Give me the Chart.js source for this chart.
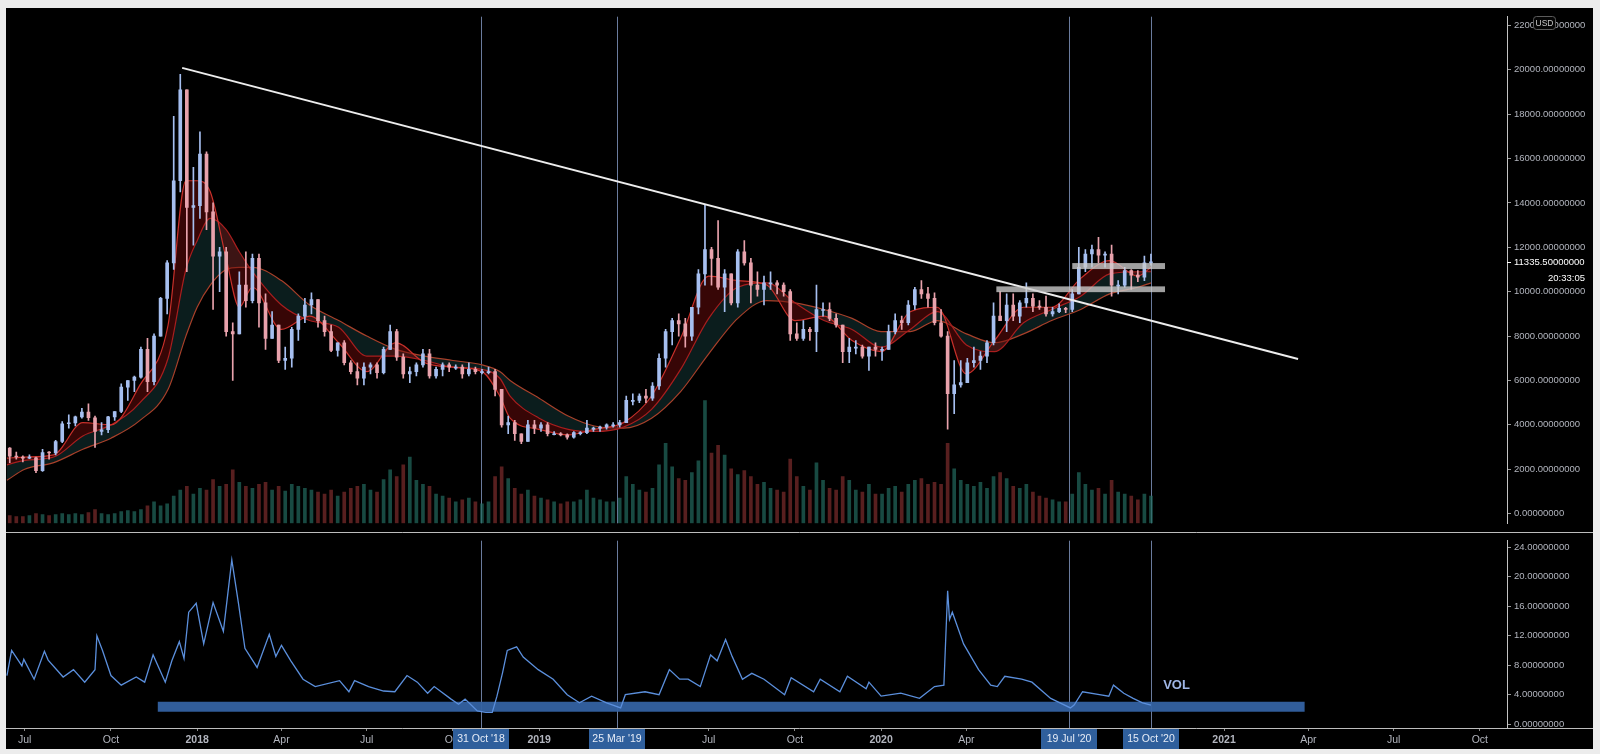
<!DOCTYPE html>
<html lang="en">
<head>
<meta charset="UTF-8">
<title>BTCUSD 1D</title>
<script src="https://cdn.jsdelivr.net/npm/chart.js"></script>
<style>
  html, body { margin: 0; padding: 0; background: #ececec; }
  body { width: 1600px; height: 754px; position: relative; overflow: hidden; }
  #frame { position: absolute; left: 6px; top: 8px; width: 1587px; height: 741px; background: #000; }
  #topChart { position: absolute; left: 0; top: 0; }
  #botChart { position: absolute; left: 0; top: 524px; }
</style>
</head>
<body>
<div id="frame">
  <canvas id="topChart" width="1587" height="524"></canvas>
  <canvas id="botChart" width="1587" height="217"></canvas>
</div>

<script>
// weekly candles, first week starting 12 Jun 2017
const weekStart = '2017-06-12';
const firstOpen = 2950;
const highs = [
  2980,2770,2600,2650,2550,2900,2800,3300,4150,4450,4400,4750,4950,4400,4100,4380,4600,5850,6000,6200,7500,7900,8100,9750,11400,17900,19800,19100,15600,
  17200,16300,14000,12000,12000, 8600,10900,11800,11700, 11700,9900,9100,8500, 7500,8400,9000,9700,9950, 9650,8900,8500,7700, 7800,6900,6800,6800,
  6800,6800,7500,8500,8300, 7200,6600,6800,7400, 7400,6600,6800,6800, 6700,6700,6800,6600,6500, 6600,6500,5600,4400, 4200,3600,4200,4200,4100,
  4100,3700,3650,3600, 3700,3700,4200,3900, 3950,4050,4100,4200, 5300,5400,5400,5600,5900, 7200,8300,8800,9000, 8800,9300,11000,13900,
  12000,13200,11000,10800,11900, 12300,11500,10900,10700, 10900,10500,10400,10100,8600, 8700,8400,10300,9500, 9500,9000,8500,7900, 7800,7600,7500,7700,7500,
  8500,9000,8900,9600, 10200,10500,10200,9950, 9200,8200,6900,6900,7000, 7500,7300,7800,9500, 10000,9900,9900,9600, 10400,9900,9600,9800,9300,
  9450,9300,10100,12000, 11900,12100,12450,11800,12100, 10500,11100,11000,10950, 11600,11700
];
const lows = [
  2300,2450,2330,2480,1850,1900,2450,2650,3200,3850,3950,4300,4200,2980,3550,3650,4200,4550,5100,5500,6100,5500,5800,8000,9000,11000,14500,10900,12100,
  13300,12800,9200,10000,8000, 6000,8100,9300,9500, 8400,7400,7900,6800, 6500,6600,7800,8600,9000, 8400,8000,7300,7100, 6700,6300,5800,5800,
  6300,6100,6300,7400,6900, 6100,5900,6200,6600, 6100,6100,6200,6400, 6500,6100,6200,6300,6300, 6300,5300,3900,3600, 3300,3150,3250,3600,3700,
  3500,3550,3500,3350, 3400,3550,3600,3700, 3700,3800,3900,3900, 4100,4900,5000,5000,5100, 5600,6600,7600,8000, 7500,7800,9000,10300,
  10300,10100,9100,9400,9300, 11200,9500,9800,9400, 10100,9900,9800,7800,7800, 7800,7800,7300,8900, 8700,8400,6800,6800, 7200,7000,6450,7100,6900,
  7400,8100,8300,8500, 9200,9700,9300,8500, 7950,3800,4500,5700,5900, 6600,6500,6800,7600, 8700,8200,8700,8600, 9300,9100,9200,8900,8900,
  9050,9050,9100,9900, 10900,11100,11300,11100,9800, 9900,10200,10100,10450, 10500,11200
];
const closes = [
  2590,2550,2500,2510,1930,2750,2730,3250,4050,4090,4360,4580,4320,3700,3780,4360,4600,5700,6000,6150,7400,5950,8000,9700,11300,15000,19100,13800,13880,
  16200,13600,11600,11800,8200, 8100,10300,9600,11500, 9500,7900,8500,6900, 7000,8300,8900,9400,9650, 8700,8200,7350,7700, 6800,6400,6100,6600,
  6700,6350,7400,8200,7050, 6300,6400,6700,7200, 6200,6500,6700,6600, 6600,6300,6500,6400,6400, 6400,5600,4000,4100, 3600,3250,4000,3850,4000,
  3600,3600,3550,3450, 3650,3650,3850,3850, 3900,4000,4000,4100, 5100,5100,5300,5200,5750, 7000,8200,8700,8550, 8000,9300,10800,11900,
  11500,10200,10800,9500,11800, 11300,10300,10100,10400, 10400,10300,10000,8100,7900, 8300,8200,9200,9200, 8800,8500,7300,7500, 7500,7100,7500,7400,7400,
  8200,8700,8600,9400, 10100,9900,9700,8600, 8000,5400,5800,5900,6800, 6900,7100,7700,8900, 8700,9400,8900,9500, 9700,9350,9300,9000,9100,
  9250,9200,9900,11100, 11700,11900,11650,11700,10300, 10300,10950,10750,10650, 11300,11335.5
];
const volumes = [
  8,7,7, 8,10,9,8,9, 10,9,10,9, 11,14,10,9, 10,12,13,12,14, 18,22,18,20, 28,34,38,30,
  36,34,45,38,40, 55,42,38,36, 40,42,34,38, 33,40,38,36,34, 32,30,34,28, 32,36,38,40,
  34,32,45,55,48, 60,68,44,40, 38,30,28,26, 22,24,26,22,20, 22,48,58,46, 36,30,34,28,26,
  24,22,20,22, 22,24,34,26, 24,22,22,26, 48,40,34,32,36, 60,82,58,46, 44,52,64,126,
  72,80,70,56,50, 54,48,40,42, 36,34,32,66,48, 38,34,62,44, 36,34,48,44, 34,32,40,30,30,
  36,38,32,40, 44,46,40,42, 40,82,56,44,40, 38,42,36,48, 52,46,38,36, 40,32,28,26,24,
  22,22,30,52, 40,34,36,30,44, 32,30,28,24, 30,28
];

// moving average ribbon (fast / mid / slow)
const maDates = ['2017-06-12','2017-07-01','2017-08-01','2017-09-01','2017-10-01','2017-11-01','2017-12-01','2017-12-20',
  '2018-01-01','2018-01-15','2018-02-01','2018-02-15','2018-03-01','2018-04-01','2018-05-01','2018-06-01','2018-07-01','2018-08-01',
  '2018-09-01','2018-10-01','2018-11-01','2018-11-20','2018-12-01','2019-01-01','2019-02-01','2019-03-01','2019-04-01','2019-05-01',
  '2019-06-01','2019-07-01','2019-08-01','2019-09-01','2019-10-01','2019-11-01','2019-12-01','2020-01-01','2020-02-01','2020-03-01',
  '2020-04-01','2020-05-01','2020-06-01','2020-07-01','2020-08-01','2020-09-01','2020-10-01','2020-10-15'];
const maFast = [2500,2550,2650,4100,4000,5800,8500,15000,15000,14500,11500,9300,10200,8300,8900,7700,6400,7700,6800,6600,6400,5300,4300,3800,
  3550,3800,4100,5300,7900,10700,10500,10300,8700,8900,7800,7300,9100,9300,6300,7800,9300,9300,10600,11400,10700,11100];
const maMid = [2200,2400,2550,3500,4000,5000,7000,11000,12300,13300,12800,11800,10900,9400,8700,8400,7100,7100,6900,6600,6500,6100,5300,4300,
  3800,3700,3900,4700,6500,8800,10200,10400,9500,8700,8300,7500,8300,9100,7600,7300,8600,9200,9800,10800,10900,10900];
const maSlow = [1500,2000,2300,2900,3400,4200,5600,8000,9300,10300,11000,11100,11100,10500,9400,8700,8000,7400,7100,6900,6700,6400,6000,5200,
  4400,3950,3850,4300,5500,7200,8800,9600,9500,9200,8800,8200,8200,8700,8100,7700,8100,8700,9200,9900,10200,10400];

// trend line and price zones
const trendDates = ['2017-12-16', '2021-03-21'];
const trendPrices = [20087, 6970];
const zoneFrom = ['2020-07-23', '2020-05-03'];
const zoneTo = ['2020-10-30', '2020-10-30'];
const zoneLow = [11020, 9980];
const zoneHigh = [11290, 10240];

// volatility panel
const volDates = ['2017-06-12','2017-06-17','2017-06-28','2017-06-30','2017-07-11','2017-07-22','2017-07-26','2017-08-11','2017-08-22',
  '2017-09-03','2017-09-14','2017-09-16','2017-09-22','2017-10-01','2017-10-12','2017-10-28','2017-11-06','2017-11-15','2017-11-28',
  '2017-12-05','2017-12-13','2017-12-18','2017-12-23','2017-12-31','2018-01-08','2018-01-18','2018-01-29','2018-02-07','2018-02-14',
  '2018-02-21','2018-03-06','2018-03-19','2018-03-26','2018-04-01','2018-04-11','2018-04-24','2018-05-07','2018-06-02','2018-06-12',
  '2018-06-18','2018-07-03','2018-07-19','2018-07-31','2018-08-13','2018-08-24','2018-09-04','2018-09-11','2018-09-29','2018-10-07',
  '2018-10-14','2018-10-27','2018-11-05','2018-11-12','2018-11-17','2018-11-23','2018-11-28','2018-12-08','2018-12-15','2018-12-31',
  '2019-01-16','2019-01-31','2019-02-13','2019-02-26','2019-03-14','2019-03-29','2019-04-03','2019-04-24','2019-05-09','2019-05-20',
  '2019-05-31','2019-06-09','2019-06-22','2019-07-03','2019-07-10','2019-07-19','2019-07-26','2019-08-06','2019-08-16','2019-08-29',
  '2019-09-20','2019-09-27','2019-10-21','2019-10-28','2019-11-18','2019-11-26','2019-12-16','2019-12-19','2020-01-01','2020-01-22',
  '2020-02-11','2020-02-27','2020-03-08','2020-03-12','2020-03-14','2020-03-17','2020-03-29','2020-04-14','2020-04-27','2020-05-04',
  '2020-05-12','2020-05-30','2020-06-10','2020-06-30','2020-07-21','2020-07-25','2020-08-03','2020-08-21','2020-08-31','2020-09-05',
  '2020-09-16','2020-09-26','2020-10-06','2020-10-15'];
const volValues = [6.6,10.0,7.9,8.8,6.1,9.9,8.7,6.4,7.4,
  5.7,7.4,12.0,10.0,6.6,5.3,6.4,5.7,9.4,5.7,
  8.6,11.2,8.9,15.2,16.4,10.9,16.5,12.6,22.3,16.5,
  10.3,7.7,12.2,9.2,10.7,8.6,6.1,5.1,5.9,4.4,
  5.9,5.1,4.5,4.4,6.6,5.7,4.2,5.1,3.4,2.7,
  3.4,1.8,1.6,1.6,3.8,7.0,10.0,10.5,9.1,7.4,
  6.1,4.0,2.9,3.8,2.9,2.2,4.0,4.4,4.0,7.4,
  6.1,6.1,5.1,9.4,8.6,11.5,9.2,6.1,6.9,6.1,
  4.0,6.3,4.4,6.1,4.4,6.5,4.8,5.7,3.8,4.2,
  3.5,5.1,5.3,18.1,14.2,15.2,10.9,7.4,5.3,5.1,
  6.5,6.1,5.7,3.5,2.2,2.6,4.4,4.0,3.8,5.3,
  4.2,3.5,2.9,2.6];
const bandDates = ['2017-11-20', '2021-03-28'];
const bandLevel = 2.35;

// axes, markers
const tickDates = ['2017-07-01','2017-10-01','2018-01-01','2018-04-01','2018-07-01','2018-10-01','2019-01-01','2019-04-01','2019-07-01',
  '2019-10-01','2020-01-01','2020-04-01','2020-07-01','2020-10-01','2021-01-01','2021-04-01','2021-07-01','2021-10-01'];
const tickLabels = ['Jul','Oct','2018','Apr','Jul','Oct','2019','Apr','Jul','Oct','2020','Apr','Jul','Oct','2021','Apr','Jul','Oct'];
const priceTicks = [0,2000,4000,6000,8000,10000,12000,14000,16000,18000,20000,22000];
const volTicks = [0,4,8,12,16,20,24];
const markerDates = ['2018-10-31','2019-03-25','2020-07-19','2020-10-15'];
const markerLabels = ["31 Oct '18","25 Mar '19","19 Jul '20","15 Oct '20"];
const lastPrice = 11335.5;
const countdown = '20:33:05';

const FONT = '"Liberation Sans", Arial, sans-serif';
const AXIS_TXT = '#b2b5be';
const MARKER = 'rgba(125,145,185,0.85)';
const xMin = '2017-06-11', xMax = '2021-10-30';

const DAY0 = Date.UTC(2018, 0, 1);
function day(s) {
  const [y, m, d] = s.split('-').map(Number);
  return (Date.UTC(y, m - 1, d) - DAY0) / 86400000;
}

const start = day(weekStart);
const candleX = closes.map((_, i) => start + 7 * i + 3);
const opens = closes.map((c, i) => i === 0 ? firstOpen : closes[i - 1]);
const isUp = closes.map((c, i) => c >= opens[i]);
const candleCol = isUp.map(u => u ? '#a6bff0' : '#e8a2ac');
const volCol = isUp.map(u => u ? 'rgba(34,105,94,0.7)' : 'rgba(125,44,44,0.7)');

const xScale = (show) => ({
  type: 'linear',
  display: show,
  min: day(xMin),
  max: day(xMax),
  offset: false,
  afterBuildTicks: s => { s.ticks = tickDates.map(d => ({ value: day(d) })); },
  afterFit: s => { if (show) s.height = 21; },
  grid: { drawOnChartArea: false, color: '#8a8a8a', tickLength: 3 },
  border: { display: false },
  ticks: {
    autoSkip: false, maxRotation: 0, color: AXIS_TXT, padding: 3,
    font: c => ({ family: FONT, size: 10.5, weight: /^\d{4}$/.test(tickLabels[c.index] || '') ? 'bold' : 'normal' }),
    callback: (v, i) => tickLabels[i]
  }
});

const yScale = (min, max, list) => ({
  position: 'right',
  min: min, max: max,
  afterBuildTicks: s => { s.ticks = list.map(v => ({ value: v })); },
  afterFit: s => { s.width = 86; },
  grid: { drawOnChartArea: false, color: '#9a9a9a', tickLength: 4 },
  border: { color: '#c4c4c4' },
  ticks: { color: AXIS_TXT, padding: 3, font: { family: FONT, size: 9.5 }, callback: v => v.toFixed(8) }
});

function drawMarkers(chart) {
  const { ctx, chartArea: a, scales: { x } } = chart;
  ctx.save();
  ctx.strokeStyle = MARKER;
  ctx.lineWidth = 1;
  markerDates.forEach(d => {
    const px = Math.round(x.getPixelForValue(day(d))) + 0.5;
    ctx.beginPath(); ctx.moveTo(px, a.top); ctx.lineTo(px, a.bottom); ctx.stroke();
  });
  ctx.restore();
}

const topDecor = {
  id: 'topDecor',
  beforeDatasetsDraw(chart) { drawMarkers(chart); },
  afterDatasetsDraw(chart) {
    const { ctx, scales: { x, y } } = chart;
    ctx.save();
    ctx.fillStyle = 'rgba(205,205,205,0.78)';
    zoneFrom.forEach((f, i) => {
      const x0 = x.getPixelForValue(day(f)), x1 = x.getPixelForValue(day(zoneTo[i]));
      const y0 = y.getPixelForValue(zoneHigh[i]), y1 = y.getPixelForValue(zoneLow[i]);
      ctx.fillRect(x0, y0, x1 - x0, y1 - y0);
    });
    ctx.restore();
  },
  afterDraw(chart) {
    const { ctx, chartArea: a, scales: { y } } = chart;
    ctx.save();
    // last price label
    const py = Math.round(y.getPixelForValue(lastPrice)) + 0.5;
    ctx.strokeStyle = '#ffffff';
    ctx.beginPath(); ctx.moveTo(a.right, py); ctx.lineTo(a.right + 4, py); ctx.stroke();
    ctx.font = '9.5px ' + FONT;
    ctx.fillStyle = '#ffffff';
    ctx.textBaseline = 'middle';
    ctx.textAlign = 'left';
    ctx.fillText(lastPrice.toFixed(8), a.right + 7, py);
    ctx.textAlign = 'right';
    ctx.fillText(countdown, a.right + 78, py + 16);
    // currency badge
    const bx = a.right + 26, by = 8, bw = 22, bh = 13;
    ctx.fillStyle = '#050505';
    ctx.strokeStyle = '#5c5c5c';
    ctx.beginPath(); ctx.roundRect(bx + 0.5, by + 0.5, bw, bh, 3); ctx.fill(); ctx.stroke();
    ctx.fillStyle = '#c8c8c8';
    ctx.font = '8.5px ' + FONT;
    ctx.textAlign = 'center';
    ctx.fillText('USD', bx + bw / 2 + 0.5, by + bh / 2 + 1);
    ctx.restore();
  }
};

const botDecor = {
  id: 'botDecor',
  beforeDatasetsDraw(chart) { drawMarkers(chart); },
  afterDraw(chart) {
    const { ctx, chartArea: a, scales: { x, y } } = chart;
    ctx.save();
    ctx.strokeStyle = '#bdbdbd';
    ctx.lineWidth = 1;
    ctx.beginPath(); ctx.moveTo(0, 0.5); ctx.lineTo(chart.width, 0.5); ctx.stroke();
    ctx.beginPath(); ctx.moveTo(0, a.bottom + 0.5); ctx.lineTo(chart.width, a.bottom + 0.5); ctx.stroke();
    ctx.font = '10.5px ' + FONT;
    ctx.textAlign = 'center';
    ctx.textBaseline = 'middle';
    markerDates.forEach((d, i) => {
      const px = Math.round(x.getPixelForValue(day(d)));
      ctx.fillStyle = '#2f5f9c';
      ctx.fillRect(px - 28, a.bottom + 1, 56, 20);
      ctx.fillStyle = '#e6ecf7';
      ctx.fillText(markerLabels[i], px, a.bottom + 11);
    });
    ctx.font = 'bold 13px ' + FONT;
    ctx.fillStyle = '#9fb6e6';
    ctx.textAlign = 'left';
    ctx.fillText('VOL', x.getPixelForValue(day('2020-10-28')), y.getPixelForValue(5.2));
    ctx.restore();
  }
};

const noUi = { legend: { display: false }, tooltip: { enabled: false } };

new Chart(document.getElementById('topChart'), {
  type: 'line',
  data: {
    datasets: [
      { type: 'bar', label: 'Volume', yAxisID: 'yv', order: 7, grouped: false, barThickness: 3,
        data: candleX.map((x, i) => ({ x: x, y: volumes[i] })), backgroundColor: volCol },
      { label: 'MA slow', order: 6, data: maDates.map((d, i) => ({ x: day(d), y: maSlow[i] })),
        borderColor: '#a8402a', borderWidth: 1.2, pointRadius: 0, cubicInterpolationMode: 'monotone',
        fill: { target: 2 }, backgroundColor: 'rgba(22,58,58,0.5)' },
      { label: 'MA mid', order: 5, data: maDates.map((d, i) => ({ x: day(d), y: maMid[i] })),
        borderColor: '#a81e1e', borderWidth: 1.2, pointRadius: 0, cubicInterpolationMode: 'monotone',
        fill: { target: 3 }, backgroundColor: 'rgba(110,12,12,0.5)' },
      { label: 'MA fast', order: 4, data: maDates.map((d, i) => ({ x: day(d), y: maFast[i] })),
        borderColor: '#c8302a', borderWidth: 1.2, pointRadius: 0, cubicInterpolationMode: 'monotone', fill: false },
      { type: 'bar', label: 'Wick', order: 3, grouped: false, barThickness: 1,
        data: candleX.map((x, i) => ({ x: x, y: [lows[i], highs[i]] })), backgroundColor: candleCol },
      { type: 'bar', label: 'Body', order: 2, grouped: false, barThickness: 3,
        data: candleX.map((x, i) => ({ x: x, y: [opens[i], closes[i]] })), backgroundColor: candleCol, minBarLength: 1 },
      { label: 'Trend', order: 1, data: trendDates.map((d, i) => ({ x: day(d), y: trendPrices[i] })),
        borderColor: '#ededed', borderWidth: 2, pointRadius: 0, fill: false }
    ]
  },
  options: {
    responsive: false,
    animation: false,
    layout: { padding: 0 },
    plugins: noUi,
    scales: {
      x: xScale(false),
      y: yScale(-436, 22392, priceTicks),
      yv: { display: false, min: 0, max: 520 }
    }
  },
  plugins: [topDecor]
});

new Chart(document.getElementById('botChart'), {
  type: 'line',
  data: {
    datasets: [
      { label: 'Volatility', order: 1, data: volDates.map((d, i) => ({ x: day(d), y: volValues[i] })),
        borderColor: '#5b8fdc', borderWidth: 1.3, pointRadius: 0, tension: 0, fill: false },
      { label: 'Band', order: 2, data: bandDates.map(d => ({ x: day(d), y: bandLevel })),
        borderColor: 'rgba(52,98,162,0.95)', borderWidth: 10, borderCapStyle: 'butt', pointRadius: 0, fill: false }
    ]
  },
  options: {
    responsive: false,
    animation: false,
    layout: { padding: 0 },
    plugins: noUi,
    scales: {
      x: xScale(true),
      y: yScale(-0.52, 24.9, volTicks)
    }
  },
  plugins: [botDecor]
});
</script>
</body>
</html>
